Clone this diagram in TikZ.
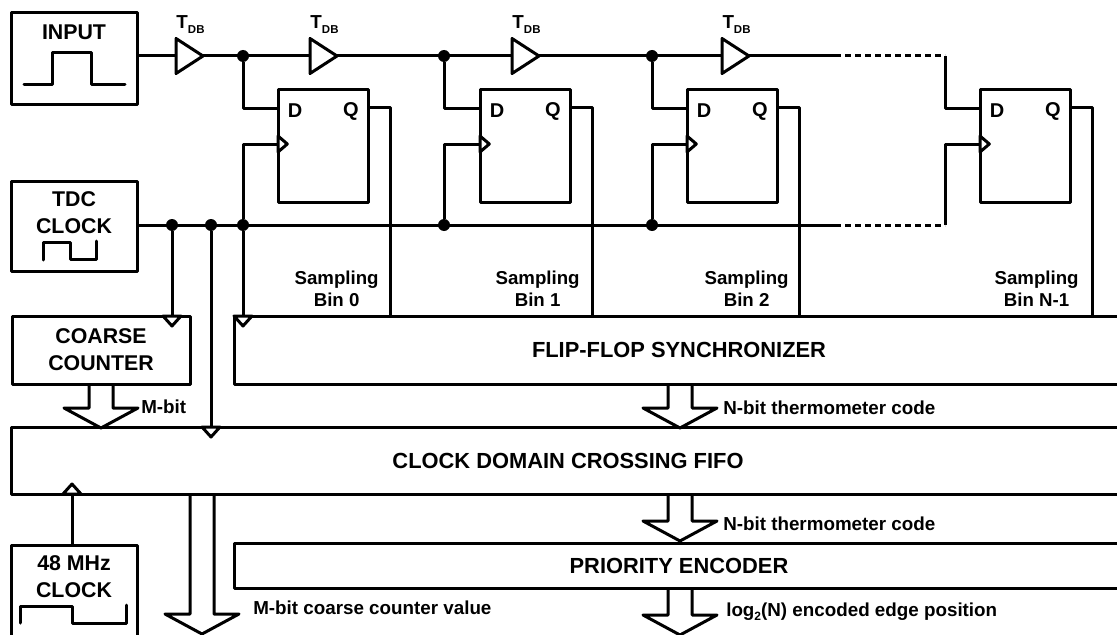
\documentclass[tikz,border=0pt]{standalone}
\usepackage{fontspec}
\setmainfont{Liberation Sans}
\usetikzlibrary{shapes.geometric, positioning}

\begin{document}
\begin{tikzpicture}[
    x=0.75pt, y=-0.75pt,
    wire/.style={line width=2.25pt, line join=round},
    box/.style={rectangle, draw, line width=2.25pt, line join=round, anchor=north west,
                inner sep=0pt, outer sep=0pt, font=\fontsize{16.4}{20}\selectfont\bfseries},
    title/.style={font=\fontsize{16}{20.25}\selectfont\bfseries, align=center},
    pinlabel/.style={font=\fontsize{15}{18}\selectfont\bfseries},
    bin/.style={font=\fontsize{14}{16.5}\selectfont\bfseries, align=center},
    tag/.style={font=\fontsize{14.1}{16}\selectfont\bfseries, inner sep=0pt},
    buffer/.style={isosceles triangle, isosceles triangle stretches, draw, line width=2.25pt,
                   line join=round, minimum width=26.25pt, minimum height=20.25pt,
                   inner sep=0pt, outer sep=0pt},
    clkmark/.style={isosceles triangle, isosceles triangle stretches, draw, fill=white,
                    line width=2.25pt, line join=round, shape border rotate=#1,
                    minimum width=13.5pt, minimum height=7.5pt,
                    inner sep=0pt, outer sep=0pt, anchor=lower side},
    dot/.style={circle, fill=black, inner sep=0pt, outer sep=0pt, minimum size=9pt},
    pics/bus/.style={code={
        \draw[wire] (-12,0) -- (-12,#1) -- (-37,#1) -- (0,#1+20) -- (37,#1) -- (12,#1) -- (12,0);
    }}
]
\path[use as bounding box, clip] (0,0) rectangle (1117,635);

% Sources
\node[box, minimum width=94.5pt, minimum height=68.25pt] (input) at (11,13) {};
\node[box, minimum width=94.5pt, minimum height=67.5pt] (tdc) at (11,181) {};
\node[box, minimum width=94.5pt, minimum height=71.25pt] (fast) at (11,545) {};
\node[title] (inputtext) at ([yshift=-14.25pt]input.north) {INPUT};
\node[title] (tdctext) at ([yshift=-24pt]tdc.north) {TDC\\CLOCK};
\node[title] (fasttext) at ([yshift=-24pt]fast.north) {48 MHz\\CLOCK};

% Waveforms
\draw[wire, line cap=round] (24,85) -- (52,85) -- (52,53) -- (91,53) -- (91,85) -- (125,85);
\draw[wire, line cap=round] (43,260) -- (43,242) -- (70,242) -- (70,259) -- (96,259) -- (96,241);
\draw[wire, line cap=round] (20,623) -- (20,606) -- (72,606) -- (72,623) -- (126,623) -- (126,605);

% Blocks
\node[box, minimum width=133.5pt, minimum height=51pt, font=\fontsize{16}{20.25}\selectfont\bfseries, align=center] (coarse) at (12,316) {COARSE\\COUNTER};
\node[box, minimum width=667.5pt, minimum height=51pt] (sync) at (234,316) {FLIP-FLOP SYNCHRONIZER};
\node[box, minimum width=835.5pt, minimum height=50.25pt] (fifo) at (11,427) {CLOCK DOMAIN CROSSING FIFO};
\node[box, minimum width=667.5pt, minimum height=33.75pt] (encoder) at (234,543) {PRIORITY ENCODER};

% Delay line
\node[buffer, anchor=lower side] (buf0) at (176,56) {};
\node[buffer, right=80.25pt of buf0] (buf1) {};
\node[buffer, right=131.25pt of buf1] (buf2) {};
\node[buffer, right=137.25pt of buf2] (buf3) {};
\node[tag, above=8.5pt of buf0, xshift=3.75pt] (tdb0) {T\raisebox{-3.75pt}{\fontsize{8.6}{10}\selectfont DB}};
\node[tag, above=8.5pt of buf1, xshift=3.75pt] (tdb1) {T\raisebox{-3.75pt}{\fontsize{8.6}{10}\selectfont DB}};
\node[tag, above=8.5pt of buf2, xshift=3.75pt] (tdb2) {T\raisebox{-3.75pt}{\fontsize{8.6}{10}\selectfont DB}};
\node[tag, above=8.5pt of buf3, xshift=3.75pt] (tdb3) {T\raisebox{-3.75pt}{\fontsize{8.6}{10}\selectfont DB}};

% Flip-flops
\node[box, minimum width=67.5pt, minimum height=84pt] (ff0) at (278,90) {};
\node[box, minimum width=67.5pt, minimum height=84pt, anchor=west, right=84pt of ff0] (ff1) {};
\node[box, minimum width=67.5pt, minimum height=84pt, anchor=west, right=87.75pt of ff1] (ff2) {};
\node[box, minimum width=67.5pt, minimum height=84pt, anchor=west, right=152.25pt of ff2] (ff3) {};
\node[pinlabel] (d0) at ([shift={(17,21)}]ff0.north west) {D};
\node[pinlabel] (q0) at ([shift={(-17,21)}]ff0.north east) {Q};
\node[pinlabel] (d1) at ([shift={(17,21)}]ff1.north west) {D};
\node[pinlabel] (q1) at ([shift={(-17,21)}]ff1.north east) {Q};
\node[pinlabel] (d2) at ([shift={(17,21)}]ff2.north west) {D};
\node[pinlabel] (q2) at ([shift={(-17,21)}]ff2.north east) {Q};
\node[pinlabel] (d3) at ([shift={(17,21)}]ff3.north west) {D};
\node[pinlabel] (q3) at ([shift={(-17,21)}]ff3.north east) {Q};
\node[clkmark=0, minimum width=12pt, minimum height=7pt] (ck0) at ([yshift=-40.5pt]ff0.north west) {};
\node[clkmark=0, minimum width=12pt, minimum height=7pt] (ck1) at ([yshift=-40.5pt]ff1.north west) {};
\node[clkmark=0, minimum width=12pt, minimum height=7pt] (ck2) at ([yshift=-40.5pt]ff2.north west) {};
\node[clkmark=0, minimum width=12pt, minimum height=7pt] (ck3) at ([yshift=-40.5pt]ff3.north west) {};

% Clock marks on the blocks
\node[clkmark=-90] (coarseck) at (172,316) {};
\node[clkmark=-90] (syncck) at (243,316) {};
\node[clkmark=-90] (fifock) at (211,427) {};
\node[clkmark=90] (fastck) at (72,494) {};

% Junctions
\node[dot] (data0) at (243,56) {};
\node[dot] (data1) at (444,56) {};
\node[dot] (data2) at (652,56) {};
\node[dot] (clk0) at (172,225) {};
\node[dot] (clk1) at (211,225) {};
\node[dot] (clk2) at (243,225) {};
\node[dot] (clk3) at (444,225) {};
\node[dot] (clk4) at (652,225) {};

% Free ends
\coordinate (dataend) at (835,56);
\coordinate (datadrop) at (945,56);
\coordinate (clkend) at (835,225);
\coordinate (clkdrop) at (945,225);
\coordinate (bin0) at (390,316);
\coordinate (bin1) at (592,316);
\coordinate (bin2) at (799,316);
\coordinate (bin3) at (1092,316);
\coordinate (busx) at (680,0);
\coordinate (outx) at (202,0);

% Data arrows
\draw[wire] (input.east |- buf0.lower side) -- (buf0.lower side);
\draw[wire] (buf0.apex) -- (buf1.lower side);
\draw[wire] (buf1.apex) -- (buf2.lower side);
\draw[wire] (buf2.apex) -- (buf3.lower side);
\draw[wire] (buf3.apex) -- (dataend);
\draw[wire, dash pattern=on 4.2pt off 3.3pt] (dataend) -- (datadrop);
\draw[wire] (data0) |- ([yshift=-13.5pt]ff0.north west);
\draw[wire] (data1) |- ([yshift=-13.5pt]ff1.north west);
\draw[wire] (data2) |- ([yshift=-13.5pt]ff2.north west);
\draw[wire] (datadrop) |- ([yshift=-13.5pt]ff3.north west);

% Clock arrows
\draw[wire] (tdc.east |- clk0) -- (clkend);
\draw[wire, dash pattern=on 4.2pt off 3.3pt] (clkend) -- (clkdrop);
\draw[wire] (clk2) |- (ck0.lower side);
\draw[wire] (clk3) |- (ck1.lower side);
\draw[wire] (clk4) |- (ck2.lower side);
\draw[wire] (clkdrop) |- (ck3.lower side);
\draw[wire] (clk0) -- (coarseck.lower side);
\draw[wire] (clk1) -- (fifock.lower side);
\draw[wire] (clk2) -- (syncck.lower side);
\draw[wire] (fast.north -| fastck) -- (fastck.lower side);

% Sampling outputs
\draw[wire] ([yshift=-13pt]ff0.north east) -| (bin0);
\draw[wire] ([yshift=-13pt]ff1.north east) -| (bin1);
\draw[wire] ([yshift=-13pt]ff2.north east) -| (bin2);
\draw[wire] ([yshift=-13pt]ff3.north east) -| (bin3);
\node[bin, above left=3.5pt and 5pt of bin0] (bintext0) {Sampling\\Bin 0};
\node[bin, above left=3.5pt and 5.75pt of bin1] (bintext1) {Sampling\\Bin 1};
\node[bin, above left=3.5pt and 4.25pt of bin2] (bintext2) {Sampling\\Bin 2};
\node[bin, above left=3.5pt and 6.5pt of bin3] (bintext3) {Sampling\\Bin N-1};

% Buses
\pic at (coarse.south) {bus=24};
\pic at (busx |- sync.south) {bus=24};
\pic at (busx |- fifo.south) {bus=27};
\pic at (busx |- encoder.south) {bus=27};
\pic at (outx |- fifo.south) {bus=120};

% Bus labels
\node[tag, anchor=west] (mbit) at (141,407) {M-bit};
\node[tag, anchor=west] (therm0) at (723,408) {N-bit thermometer code};
\node[tag, anchor=west] (therm1) at (723,524) {N-bit thermometer code};
\node[tag, anchor=west] (coarseval) at (253,608) {M-bit coarse counter value};
\node[tag, anchor=west] (edgepos) at (726,612) {log\raisebox{-3pt}{\fontsize{9}{10}\selectfont 2}(N) encoded edge position};

\end{tikzpicture}
\end{document}
